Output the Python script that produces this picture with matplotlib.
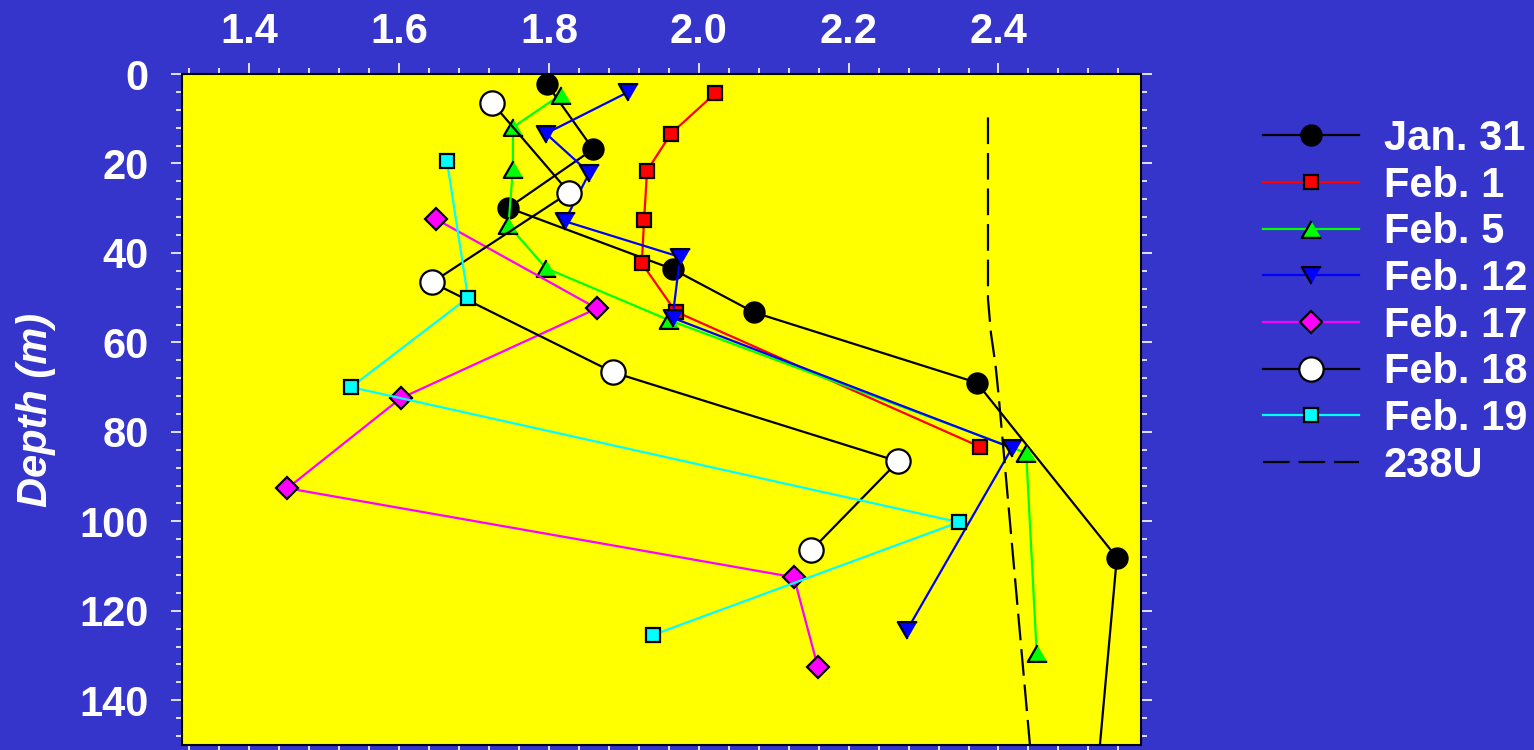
import matplotlib.pyplot as plt
from matplotlib.ticker import MultipleLocator

plt.rcParams['font.family'] = ['Liberation Sans', 'DejaVu Sans']
plt.rcParams['font.weight'] = 'bold'
plt.rcParams['font.size'] = 30

BG = '#3535cb'

# activity ratio vs depth (m) for each sampling date
jan31_x = [1.797, 1.859, 1.746, 1.965, 2.074, 2.371, 2.558, 2.530]
jan31_d = [2.2, 16.8, 29.9, 43.6, 53.3, 69.0, 108.1, 160.0]

feb1_x = [2.022, 1.963, 1.931, 1.927, 1.924, 1.969, 2.375]
feb1_d = [4.3, 13.3, 21.6, 32.6, 42.3, 53.1, 83.3]

feb5_x = [1.816, 1.752, 1.752, 1.746, 1.796, 1.960, 2.437, 2.451]
feb5_d = [4.6, 11.9, 21.2, 33.8, 43.4, 55.0, 84.7, 129.5]

feb12_x = [1.905, 1.796, 1.854, 1.821, 1.975, 1.965, 2.418, 2.278]
feb12_d = [4.1, 13.3, 22.1, 32.9, 40.9, 54.5, 83.6, 124.3]

feb17_x = [1.649, 1.864, 1.602, 1.451, 2.127, 2.159]
feb17_d = [32.4, 52.4, 72.5, 92.6, 112.5, 132.6]

feb18_x = [1.724, 1.827, 1.644, 1.886, 2.266, 2.150]
feb18_d = [6.4, 26.5, 46.6, 66.7, 86.6, 106.5]

feb19_x = [1.664, 1.692, 1.536, 2.347, 1.939]
feb19_d = [19.5, 50.0, 70.0, 100.2, 125.4]

u238_x = [2.386, 2.386, 2.390, 2.396, 2.400, 2.442]
u238_d = [9.7, 50.3, 58.0, 65.0, 71.5, 150.0]

# equilateral triangles (bbox-centred)
tri_up = [(0, 0.866), (-1, -0.866), (1, -0.866)]
tri_down = [(0, -0.866), (-1, 0.866), (1, 0.866)]

fig = plt.figure(figsize=(15.34, 7.5), dpi=100, facecolor=BG)
ax = fig.add_axes([0.1185, 0.0067, 0.6252, 0.8946])
ax.set_facecolor('#ffff00')

lw = 1.6
mew = 1.6
series = [
    (jan31_x, jan31_d, 'black', 'o', 14.5, 'black', 'Jan. 31'),
    (feb1_x, feb1_d, 'red', 's', 10.5, 'red', 'Feb. 1'),
    (feb5_x, feb5_d, '#00ff00', tri_up, 14, '#00ff00', 'Feb. 5'),
    (feb12_x, feb12_d, '#0000ff', tri_down, 14, '#0000ff', 'Feb. 12'),
    (feb17_x, feb17_d, '#ff00ff', 'D', 11, '#ff00ff', 'Feb. 17'),
    (feb18_x, feb18_d, 'black', 'o', 17.5, 'white', 'Feb. 18'),
    (feb19_x, feb19_d, '#00ffff', 's', 10.5, '#00ffff', 'Feb. 19'),
]
for x, d, c, m, ms, fc, lab in series:
    ax.plot(x, d, color=c, lw=lw, marker=m, ms=ms, mfc=fc, mec='black',
            mew=mew, label=lab)

ax.plot(u238_x, u238_d, color='black', lw=1.6, dashes=(12, 4), label='238U')

ax.set_xlim(1.31, 2.59)
ax.set_ylim(150, 0)
ax.xaxis.set_major_locator(MultipleLocator(0.2))
ax.xaxis.set_minor_locator(MultipleLocator(0.04))
ax.yaxis.set_major_locator(MultipleLocator(20))
ax.yaxis.set_minor_locator(MultipleLocator(4))
ax.xaxis.set_major_formatter(plt.FuncFormatter(lambda v, p: f'{v:.1f}'))

ax.tick_params(which='both', direction='out', colors='white', width=1.2,
               top=True, bottom=True, left=True, right=True,
               labeltop=True, labelbottom=False, labelleft=True,
               labelright=False, labelsize=30)
ax.tick_params(which='major', length=7.7)
ax.tick_params(which='minor', length=4.5)
ax.tick_params(axis='x', pad=8)
ax.tick_params(axis='y', pad=16)
for sp in ax.spines.values():
    sp.set_linewidth(1.5)
    sp.set_color('black')

ax.set_ylabel('Depth (m)', color='white', fontsize=30, style='italic',
              fontweight='bold')
ax.yaxis.set_label_coords(-0.131, 0.5)

leg = ax.legend(loc='upper left', bbox_to_anchor=(0.8233, 0.8413),
                bbox_transform=fig.transFigure, frameon=False, fontsize=30,
                handlelength=2.3, handletextpad=0.6, labelspacing=0.16,
                borderpad=0, borderaxespad=0, numpoints=1)
for t in leg.get_texts():
    t.set_color('white')

fig.savefig('out.png', dpi=100, facecolor=BG)
